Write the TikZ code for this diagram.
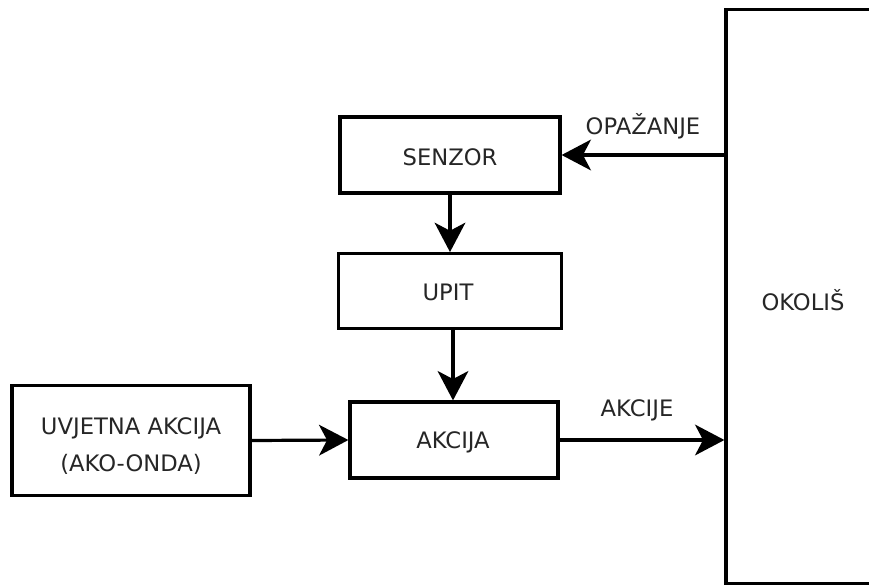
\documentclass[tikz,border=0pt]{standalone}
\usepackage{fontspec}
\setmainfont{DejaVu Sans}
\usetikzlibrary{arrows.meta}
\begin{document}
\begin{tikzpicture}[x=0.75pt,y=-0.75pt,
  box/.style={draw=black, line width=2.4pt, fill=white, inner sep=0pt},
  lbl/.style={text=black!85, font=\fontsize{17}{28}\selectfont, align=center, inner sep=0pt},
  conn/.style={line width=2.4pt, -{Stealth[length=22pt,width=23pt,inset=6pt]}}]
\useasboundingbox (0,0) rectangle (869,586);
\clip (0,0) rectangle (869,586);
\fill[white] (0,0) rectangle (869,586);
% boxes
\node[box, minimum width=165pt, minimum height=57pt] (senzor) at (450,155) {};
\node[box, minimum width=167pt, minimum height=56pt] (upit) at (450,291) {};
\node[box, minimum width=156pt, minimum height=57pt] (akcija) at (454,440) {};
\node[box, minimum width=178.5pt, minimum height=82pt] (uvjet) at (131,440.5) {};
\node[box, minimum width=150pt, minimum height=430pt] (env) at (826,296.5) {};
% texts
\node[lbl] (tsenzor) at (450,157) {SENZOR};
\node[lbl] (tupit) at (448,292) {UPIT};
\node[lbl] (takcija) at (453,442) {AKCIJA};
\node[lbl] (tuvjet) at (131,446) {UVJETNA AKCIJA\\(AKO-ONDA)};
\node[lbl] (tenv) at (803,300) {OKOLIŠ};
% connectors
\draw[conn] (senzor.east -| env.west) -- (senzor.east) node[lbl, pos=0.5, above=11pt] (topaz) {OPAŽANJE};
\draw[conn] (senzor.south) -- (upit.north);
\draw[conn] ([xshift=2.25pt]upit.south) -- ([xshift=2.25pt]upit.south |- akcija.north);
\draw[conn] (akcija.east) -- (akcija.east -| env.west) node[lbl, pos=0.47, above=13pt] (takcije) {AKCIJE};
\draw[conn] (uvjet.east) -- (akcija.west);
\end{tikzpicture}
\end{document}
